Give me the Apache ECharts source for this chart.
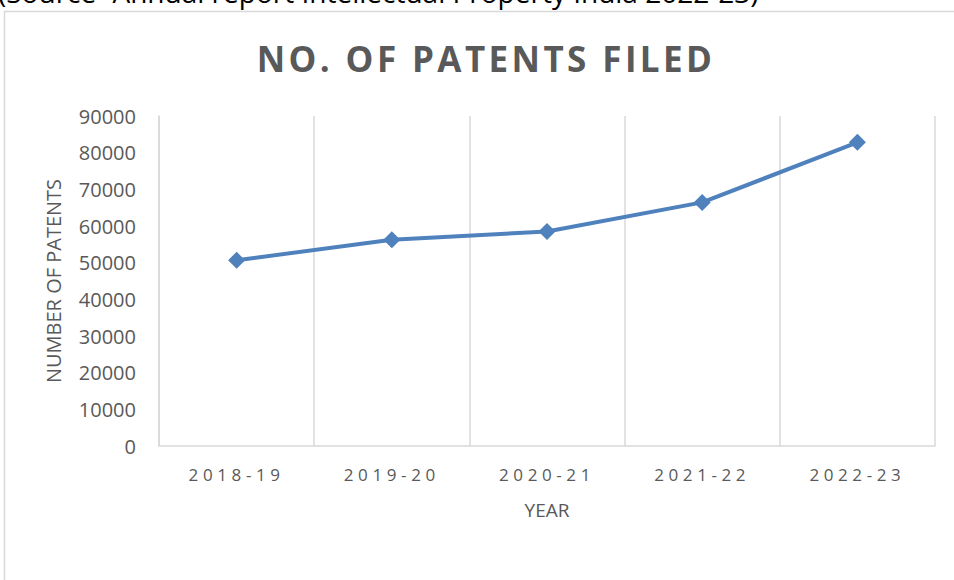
<!DOCTYPE html>
<html>
<head>
<meta charset="utf-8">
<script src="https://cdn.jsdelivr.net/npm/echarts@6/dist/echarts.min.js"></script>
<style>
  html, body { margin: 0; padding: 0; background: #fff; }
  #chart { width: 954px; height: 580px; }
  /* Excel-style tracking on the title and the category labels */
  #chart text[style*="35px"] { letter-spacing: 3.4px; }
  #chart text[style*="17px"] { letter-spacing: 4.6px; }
</style>
</head>
<body>
<div id="chart"></div>
<script>
const FONT = '"Open Sans", "Noto Sans", sans-serif';
const GREY = "#595959";
const BLUE = "#4f81bd";

const years = ["2018-19", "2019-20", "2020-21", "2021-22", "2022-23"];
const patentsFiled = [50659, 56267, 58503, 66440, 82811];
const sourceNote = "(Source- Annual report Intellectual Property India 2022-23)";

const chart = echarts.init(document.getElementById("chart"), null, { renderer: "svg" });

chart.setOption({
  backgroundColor: "#fff",
  animation: false,
  title: {
    text: "NO. OF PATENTS FILED",
    left: 481,
    top: 36,
    textAlign: "center",
    textStyle: { color: GREY, fontSize: 35, fontWeight: "bold", fontFamily: FONT },
  },
  grid: { left: 159, right: 19, top: 116, bottom: 134 },
  xAxis: {
    type: "category",
    data: years,
    boundaryGap: true,
    name: "YEAR",
    nameLocation: "middle",
    nameGap: 54,
    nameTextStyle: { color: GREY, fontSize: 19, fontFamily: FONT },
    axisLine: { lineStyle: { color: "#d9d9d9", width: 1.5 } },
    axisTick: { show: false },
    axisLabel: { color: GREY, fontSize: 17, fontFamily: FONT, margin: 20 },
    splitLine: { show: true, lineStyle: { color: "#d9d9d9", width: 1.5 } },
  },
  yAxis: {
    type: "value",
    min: 0,
    max: 90000,
    interval: 10000,
    name: "NUMBER OF PATENTS",
    nameLocation: "middle",
    nameGap: 96,
    nameTextStyle: { color: GREY, fontSize: 20, fontFamily: FONT },
    axisLine: { show: true, lineStyle: { color: "#d9d9d9", width: 1.5 } },
    axisTick: { show: false },
    axisLabel: { color: GREY, fontSize: 20, fontFamily: FONT, margin: 23, formatter: (v) => String(v) },
    splitLine: { show: false },
  },
  graphic: [
    {
      type: "rect",
      shape: { x: 4.5, y: 11.5, width: 1000, height: 1000 },
      style: { fill: "none", stroke: "#d9d9d9", lineWidth: 1.5 },
      silent: true,
    },
    {
      // the reference shows only the lower edge of this caption line
      type: "text",
      left: -2,
      top: -22,
      style: { text: sourceNote, fill: "#000", font: '28px "Open Sans", sans-serif' },
      silent: true,
    },
  ],
  series: [
    {
      type: "line",
      data: patentsFiled,
      symbol: "diamond",
      symbolSize: 17,
      lineStyle: { color: BLUE, width: 4 },
      itemStyle: { color: BLUE },
    },
  ],
});
</script>
</body>
</html>
